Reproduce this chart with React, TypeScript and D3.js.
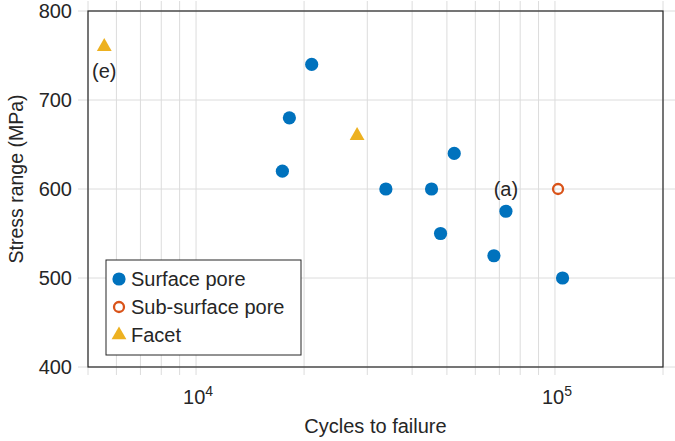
import React from "react";
import * as d3 from "d3";

const surfaceCycles = [21000, 18200, 17400, 33800, 45300, 52400, 48000, 73000, 67600, 105000];
const surfaceStress = [740, 680, 620, 600, 600, 640, 550, 575, 525, 500];
const subCycles = [102000];
const subStress = [600];
const facetCycles = [5550, 28100];
const facetStress = [760, 660];
const yTicks = [400, 500, 600, 700, 800];
const xMajor = [1e4, 1e5];
const xMinor = [5000, 6000, 7000, 8000, 9000, 1e4, 2e4, 3e4, 4e4, 5e4, 6e4, 7e4, 8e4, 9e4, 1e5, 2e5];
const legendLabels = ["Surface pore", "Sub-surface pore", "Facet"];
const annotations = [
  { text: "(e)", x: 5550, y: 760, dy: 24 },
  { text: "(a)", x: 73000, y: 600, dy: 0 },
];

const W = 675, H = 441;
const L = 88, R = 663, T = 11, B = 367;
const FONT = "'Liberation Sans', Arial, Helvetica, sans-serif";
const TXT = "#262626";
const GRID = "#dcdcdc";
const BLUE = "#0072BD", ORANGE = "#D95319", YELLOW = "#EDB120";

export default function App() {
  const x = d3.scaleLog().domain([5000, 2e5]).range([L, R]);
  const y = d3.scaleLinear().domain([400, 800]).range([B, T]);
  const tri = d3.symbol().type(d3.symbolTriangle).size(95)();

  return (
    <svg width={W} height={H} style={{ position: "absolute", left: 0, top: 0, background: "#fff" }} fontFamily={FONT}>
      <rect width={W} height={H} fill="#fff" />
      {/* grid + outer ticks */}
      {xMinor.map((v) => (
        <line key={"gx" + v} x1={x(v)} x2={x(v)} y1={1} y2={B + 8} stroke={GRID} strokeWidth={1} />
      ))}
      {yTicks.map((v) => (
        <line key={"gy" + v} x1={L - 10} x2={W} y1={y(v)} y2={y(v)} stroke={GRID} strokeWidth={1} />
      ))}
      {/* axes box */}
      <rect x={L} y={T} width={R - L} height={B - T} fill="none" stroke={TXT} strokeWidth={1.2} />
      {/* y tick labels */}
      {yTicks.map((v) => (
        <text key={"yl" + v} x={72} y={y(v)} dy="0.35em" textAnchor="end" fontSize={20} fill={TXT}>
          {v}
        </text>
      ))}
      {/* x tick labels */}
      {xMajor.map((v) => (
        <text key={"xl" + v} x={x(v) + 2} y={404} textAnchor="middle" fontSize={20} fill={TXT}>
          10
          <tspan fontSize={14} dy={-8}>{Math.round(Math.log10(v))}</tspan>
        </text>
      ))}
      {/* axis labels */}
      <text x={(L + R) / 2} y={433} textAnchor="middle" fontSize={20} fill={TXT}>
        Cycles to failure
      </text>
      <text transform={`translate(23,${179}) rotate(-90)`} textAnchor="middle" fontSize={19.5} fill={TXT}>
        Stress range (MPa)
      </text>
      {/* data */}
      {surfaceCycles.map((c, i) => (
        <circle key={"s" + i} cx={x(c)} cy={y(surfaceStress[i])} r={6.6} fill={BLUE} />
      ))}
      {subCycles.map((c, i) => (
        <circle key={"u" + i} cx={x(c)} cy={y(subStress[i])} r={5} fill="none" stroke={ORANGE} strokeWidth={2.3} />
      ))}
      {facetCycles.map((c, i) => (
        <path key={"f" + i} d={tri} transform={`translate(${x(c)},${y(facetStress[i])})`} fill={YELLOW} />
      ))}
      {annotations.map((a) => (
        <text key={a.text} x={x(a.x)} y={y(a.y) + a.dy} dy="0.35em" textAnchor="middle" fontSize={20} fill={TXT}>
          {a.text}
        </text>
      ))}
      {/* legend */}
      <g>
        <rect x={106} y={260} width={195} height={95} fill="#fff" stroke={TXT} strokeWidth={1} />
        {legendLabels.map((lab, i) => {
          const cy = 279 + i * 28;
          return (
            <g key={lab}>
              {i === 0 && <circle cx={119} cy={cy} r={6.6} fill={BLUE} />}
              {i === 1 && <circle cx={119} cy={cy} r={5} fill="none" stroke={ORANGE} strokeWidth={2.3} />}
              {i === 2 && <path d={tri} transform={`translate(119,${cy})`} fill={YELLOW} />}
              <text x={131} y={cy} dy="0.35em" fontSize={20} fill={TXT}>
                {lab}
              </text>
            </g>
          );
        })}
      </g>
    </svg>
  );
}
